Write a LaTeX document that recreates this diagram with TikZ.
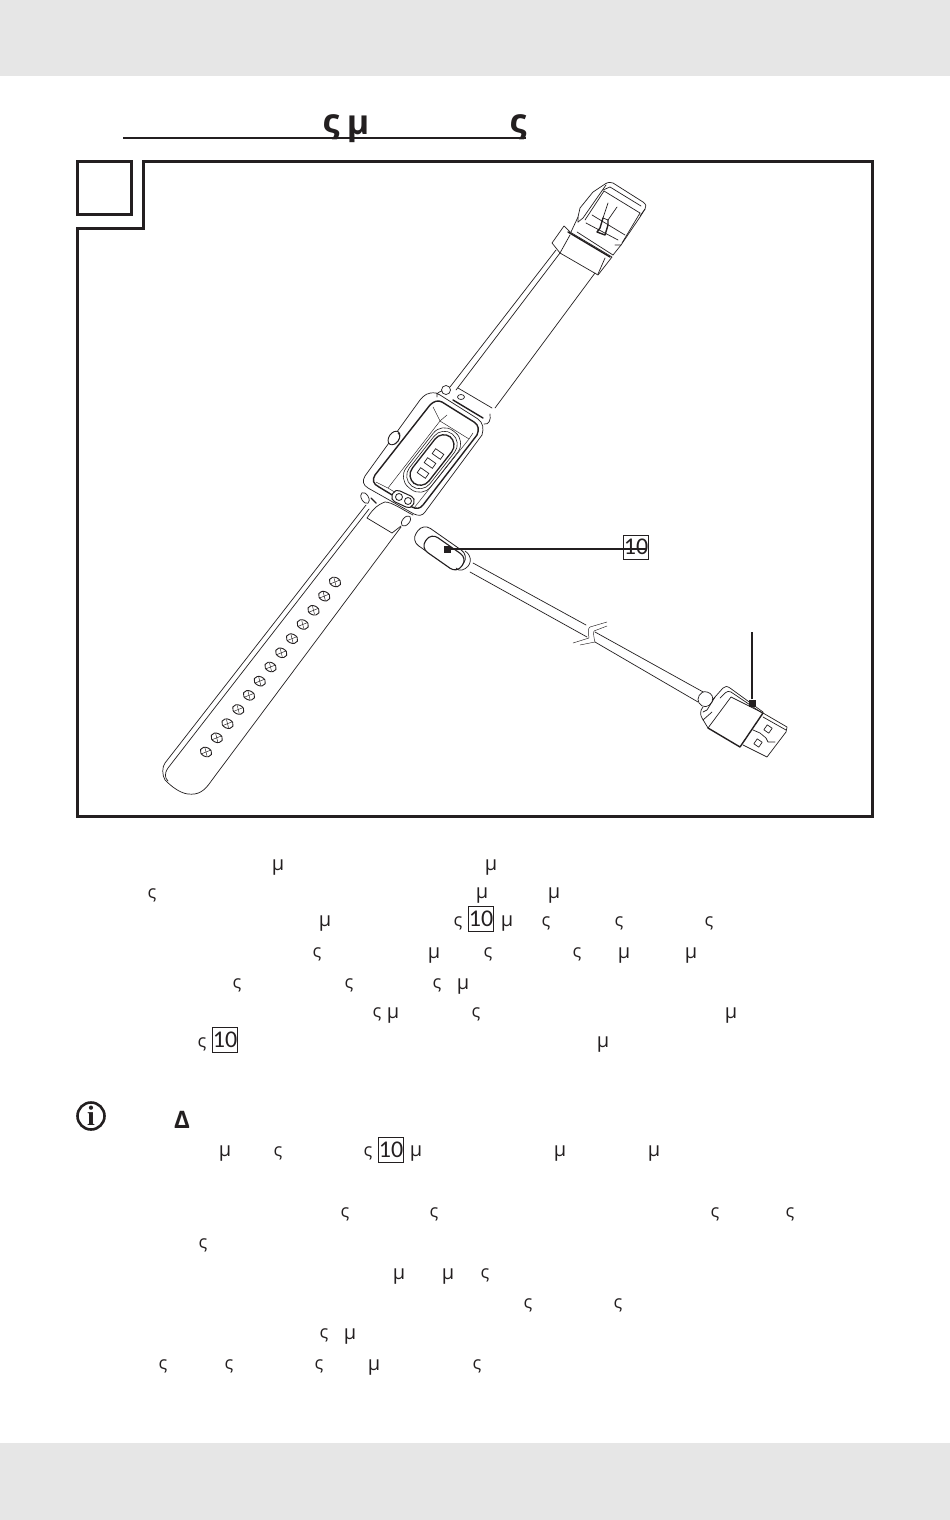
\documentclass[tikz,border=0pt]{standalone}
\usepackage{fontspec}
\setmainfont{Open Sans}
\newfontfamily\infofont{Liberation Serif}
\newfontfamily\numfont{Carlito}
\definecolor{ink}{HTML}{231F20}
\definecolor{band}{HTML}{E6E6E6}
\usetikzlibrary{shapes.geometric}
\tikzset{
  x=1pt,y=-1pt,
  every path/.style={color=ink},
  glyph/.style={inner sep=0pt,text=ink,font=\fontsize{18}{18}\selectfont},
  muglyph/.style={inner sep=0pt,text=ink,font=\fontsize{20}{20}\selectfont},
  titleglyph/.style={inner sep=0pt,text=ink,font=\fontsize{34}{34}\selectfont\bfseries},
  boxten/.style={draw=ink,line width=0.7pt,minimum width=24pt,minimum height=24pt,inner sep=0pt,text=ink,font=\fontsize{24}{24}\numfont},
  frame/.style={draw=ink,line width=3pt,miter limit=10},
  leader/.style={draw=ink,line width=2pt},
  tagsq/.style={fill=ink,draw=none,minimum size=7pt,inner sep=0pt},
  wire/.style={draw=ink,line width=0.7pt,line join=round,line cap=round},
  wirek/.style={draw=ink,line width=1.4pt,line join=round,line cap=round},
  thin wire/.style={draw=ink,line width=0.45pt,line join=round,line cap=round},
  hole/.style={draw=ink,line width=0.9pt,ellipse,minimum width=12pt,minimum height=9pt,inner sep=0pt,rotate=-25},
  pad/.style={draw=ink,line width=0.7pt,minimum width=10pt,minimum height=6pt,inner sep=0pt,rotate=-35},
}
\begin{document}
\begin{tikzpicture}
\useasboundingbox (0,0) rectangle (950,1520);
\fill[white] (0,0) rectangle (950,1520);
% bands
\fill[band] (0,0) rectangle (950,76);
\fill[band] (0,1443) rectangle (950,1520);
% title
\node[titleglyph] (t1) at (331,127) {ς};
\node[titleglyph] (t2) at (358,129) {μ};
\node[titleglyph] (t3) at (518,127) {ς};
\draw[line width=2pt] (123,138) -- (526,138);
% frame
\draw[frame] (143,161) -- (872.5,161) -- (872.5,816.5) -- (77,816.5) -- (77,228) -- (143,228) -- cycle;
\draw[frame] (77,161) rectangle (131.5,214.5);

% upper strap
\draw[wire] (450,387) -- (556,250);
\draw[wire] (456,390) -- (560,253);
\draw[wire] (495,408) -- (595,273);
\draw[wire] (458,388) -- (492,408);
\draw[wirek] (453,400) -- (483,418);
\draw[wire] (461,397) ellipse (3.5 and 2.5);
% keeper
\draw[wire] (564,226) -- (552,243) -- (560,253) -- (598,275) -- (612,257) -- (570,232) -- cycle;
\draw[wirek] (568,232) -- (610,257);
\draw[wire] (570,235) -- (560,253);
\draw[wire] (605,258) -- (598,274);
% strap past keeper
\draw[wire] (571,232) -- (578,217);
\draw[wire] (592,215) -- (625,235);
\draw[wire] (586,223) -- (618,240);
\draw[wire] (577,232) -- (613,255);
\draw[wire] (621,245) -- (613,255);
% buckle
\draw[wire] (578,222) -- (578,217) -- (580,208) -- (593,192) -- (605,184) .. controls (608,182) and (611,182) .. (613,183) -- (643,202) .. controls (646,204) and (647,207) .. (645,209) -- (640,217) -- (621,245) -- (615,245);
\draw[wire] (606,185) -- (583,218) -- (578,222);
\draw[wire] (603,190) -- (610,187) -- (641,206);
\draw[wire] (604,191) -- (640,213);
\draw[wire] (604,191) -- (585,220);
\draw[wire] (640,213) -- (622,243);
\draw[wire] (640,216) -- (645,209);
% tongue
\draw[wire] (608,203) -- (603,218);
\draw[wire] (617,207) -- (608,220);
\draw[wire] (603,218) -- (608,220);
\draw[wirek] (603,218) -- (600,228) -- (597,232) -- (605,235) -- (608,225) -- (608,220);

% watch body
\draw[wire] (420,400) .. controls (424,395) and (428,392) .. (436,393) -- (440,395) -- (478,419) .. controls (483,423) and (484,428) .. (482,435) -- (425,512) .. controls (422,516) and (419,516) .. (414,514) -- (368,488) .. controls (363,485) and (362,481) .. (365,476) -- cycle;
\draw[wirek] (430,405) .. controls (434,401) and (438,400) .. (442,402) -- (474,422) .. controls (479,425) and (479,430) .. (477,435) -- (423,505) .. controls (420,509) and (416,509) .. (412,507) -- (379,487) .. controls (373,484) and (372,480) .. (375,475) -- cycle;
% face plane
\draw[thin wire] (440,421) -- (469,439) -- (414,508);
\draw[thin wire] (440,421) -- (388,488) -- (414,504);
\draw[thin wire] (447,415) -- (440,421);
\draw[thin wire] (433,407) -- (440,421);
\draw[thin wire] (473,433) -- (469,439);
\draw[thin wire] (388,488) -- (376,482);
% pod
\node[draw=ink,line width=0.6pt,rounded corners=14pt,minimum width=72pt,minimum height=31pt,inner sep=0pt,rotate=52] (pod1) at (432,460) {};
\node[draw=ink,line width=0.6pt,rounded corners=13pt,minimum width=66pt,minimum height=26pt,inner sep=0pt,rotate=52] (pod2) at (432,460) {};
\node[draw=ink,line width=1.3pt,rounded corners=11pt,minimum width=59pt,minimum height=21pt,inner sep=0pt,rotate=52] (pod3) at (432,460) {};
\node[pad] (pad1) at (438,454) {};
\node[pad] (pad2) at (430,463) {};
\node[pad] (pad3) at (423,473) {};
% button
\node[draw=ink,line width=0.9pt,ellipse,minimum width=15pt,minimum height=10pt,inner sep=0pt,rotate=55,fill=white] (btn) at (394,438) {};
\draw[wire] (398,433) .. controls (401,435) and (400,441) .. (395,444);
% pill
\node[draw=ink,line width=1pt,rounded corners=5pt,minimum width=23pt,minimum height=12pt,inner sep=0pt,rotate=-25,fill=white] (pill) at (403,499) {};
\node[draw=ink,line width=0.8pt,circle,minimum size=7pt,inner sep=0pt] (pill1) at (399,497) {};
\node[draw=ink,line width=0.8pt,circle,minimum size=7pt,inner sep=0pt] (pill2) at (408,501) {};
% top pin & bottom pin
\draw[wire,fill=white] (446,390) circle (4.5);
\draw[wire] (437,397) .. controls (436,393) and (439,392) .. (442,391);
\draw[wire] (484,424) .. controls (489,425) and (491,420) .. (490,414);
\draw[wire,fill=white,rotate around={30:(365,498)}] (365,498) ellipse (3.5 and 6);
\draw[wirek] (371,498) -- (376,503);
% lower lug
\draw[wire] (367,518) -- (392,533) -- (401,526);
\draw[wire] (367,518) .. controls (371,512) and (376,505) .. (385,502) .. controls (392,502) and (403,510) .. (413,515);
\draw[wire,fill=white,rotate around={50:(406,521)}] (406,521) ellipse (6 and 3.5);

% lower strap
\draw[wire] (366,505) -- (165,763) .. controls (162,767) and (162,775) .. (165,780) .. controls (172,787) and (180,793) .. (188,794) .. controls (198,795) and (204,792) .. (212,780) -- (401,527);
\draw[wire] (369,509) -- (168,768) .. controls (164,774) and (165,778) .. (168,781);
\foreach \i in {0,...,12} {
  \pgfmathsetmacro\hx{206+\i*10.75}
  \pgfmathsetmacro\hy{752-\i*14.17}
  \node[hole] (h\i) at (\hx,\hy) {};
  \draw[thin wire] (\hx-5,\hy+2) -- (\hx+5,\hy-2);
  \draw[thin wire] (\hx-1,\hy-4) -- (\hx+1,\hy+4);
}

% cable head
\node[draw=ink,line width=0.8pt,rounded corners=9pt,minimum width=56pt,minimum height=21pt,inner sep=0pt,rotate=-35] (head) at (440,548) {};
\node[draw=ink,line width=1.1pt,rounded corners=8pt,fill=white,minimum width=44pt,minimum height=18pt,inner sep=0pt,rotate=-35] (headin) at (444,553) {};
\draw[wire] (465,551) .. controls (473,556) and (472,567) .. (462,570) .. controls (460,571) and (458,570) .. (456,568);
% cable
\draw[wire] (473,563) -- (586,625);
\draw[wire] (470,572) -- (587,637);
\draw[wire] (595,632) -- (705,693);
\draw[wire] (595,642) -- (698,702);
% break
\draw[thin wire] (607,622) -- (590,627) .. controls (588,628) and (588,632) .. (589,638) -- (573,643);
\draw[thin wire] (607,626) -- (594,631) .. controls (593,633) and (594,638) .. (595,642) -- (580,645);
% plug
\draw[wire,fill=white] (707,692) .. controls (700,690) and (696,699) .. (699,703) .. controls (702,708) and (709,708) .. (712,702) .. controls (714,698) and (712,693) .. (707,692) -- cycle;
\draw[wire] (712,700) -- (715,697) -- (723,688) .. controls (725,686) and (727,686) .. (730,688) -- (763,712);
\draw[wire] (720,698) -- (725,693) .. controls (727,691) and (729,691) .. (731,692) -- (762,713);
\draw[wire] (703,707) .. controls (700,710) and (700,715) .. (702,718) -- (708,728);
\draw[wire] (715,697) -- (707,710) -- (703,712);
\draw[wire] (703,720) -- (712,712);
\draw[wirek] (708,728) -- (740,747) -- (763,713);
\draw[wire] (708,728) -- (731,697) -- (763,713);
\draw[wire] (763,713) -- (787,727) -- (786,732) -- (767,757) -- (743,745);
\draw[wire] (763,717) -- (786,730);
\draw[wire] (753,730) -- (760,733) -- (766,738) -- (768,742) -- (775,742);
\draw[wire,rotate around={-35:(768,729)}] (765,726) rectangle (771,732);
\draw[wire,rotate around={-35:(758,743)}] (755,740) rectangle (761,746);

% leaders
\node[boxten] (n10) at (636,547) {10};
\node[tagsq] (sq1) at (447,549) {};
\draw[leader] (sq1) -- (n10.center |- sq1) -- (646,549);
\node[tagsq] (sq2) at (752,703) {};
\coordinate (up2) at (752,632);
\draw[leader] (sq2) -- (up2);

% body text
\foreach \x/\y [count=\i] in {
 278/868,491/868,
 482/896,554/896,
 325/924,507/924,
 434/956,624/956,691/956,
 463/987,
 393/1016,731/1016,
 603/1045,
 225/1154,416/1154,560/1154,654/1154,
 399/1277,448/1277,
 350/1337,
 374/1368}
  \node[muglyph] (mu\i) at (\x,\y) {μ};
\foreach \x/\y [count=\i] in {
 152/895,
 458/923,546/923,619/923,709/923,
 317/954,488/954,577/954,
 237/985,349/985,437/985,
 377/1014,476/1014,
 202/1044,
 278/1153,368/1153,
 345/1214,434/1214,715/1214,790/1214,
 203/1245,
 485/1275,
 528/1305,618/1305,
 324/1335,
 163/1366,229/1366,319/1366,477/1366}
  \node[glyph] (sg\i) at (\x,\y) {ς};
\node[boxten,minimum width=25pt,minimum height=25pt] (b1) at (481,919) {10};
\node[boxten,minimum width=25pt,minimum height=25pt] (b2) at (225,1040) {10};
\node[boxten,minimum width=25pt,minimum height=25pt] (b3) at (391,1150) {10};
% info
\node[draw=ink,line width=2.6pt,circle,minimum size=27pt,inner sep=0pt,font=\fontsize{28}{28}\infofont\bfseries,text=ink] (info) at (91,1116) {i};
\node[inner sep=0pt,text=ink,font=\fontsize{24}{24}\selectfont\bfseries] (delta) at (182,1120) {Δ};
\end{tikzpicture}
\end{document}
